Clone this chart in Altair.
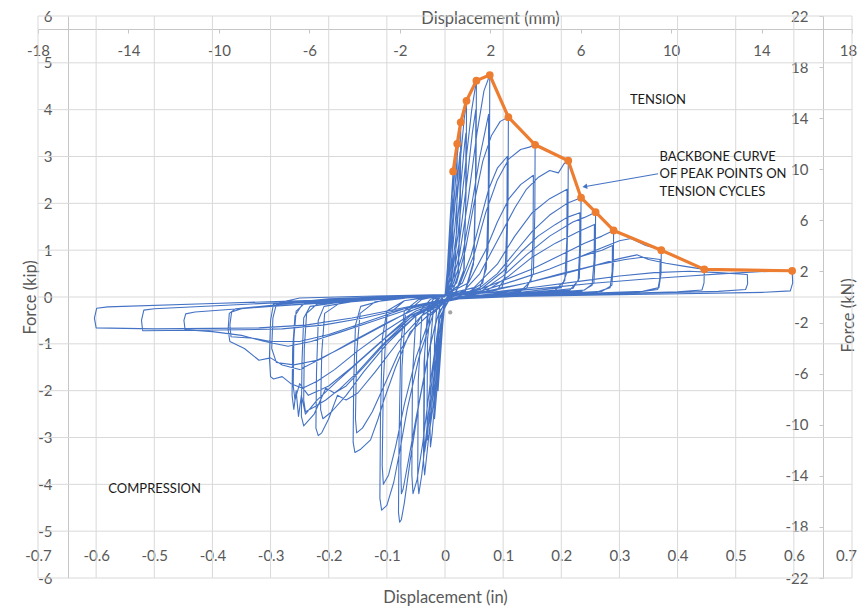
import altair as alt
import pandas as pd

# ---------------- tick values ----------------
in_ticks = [-0.7, -0.6, -0.5, -0.4, -0.3, -0.2, -0.1, 0.0, 0.1, 0.2, 0.3, 0.4, 0.5, 0.6, 0.7]
kip_ticks = [-6, -5, -4, -3, -2, -1, 0, 1, 2, 3, 4, 5, 6]
mm_ticks = [-18, -14, -10, -6, -2, 2, 6, 10, 14, 18]
kn_ticks = [-22, -18, -14, -10, -6, -2, 2, 6, 10, 14, 18, 22]

# ---------------- hysteresis cycles (displacement in, force kip) ----------------
cyc01 = [(0.0,0.0),(0.004,0.6),(0.009,1.7),(0.014,2.68),(0.0135,1.4),(0.011,0.3),(0.005,0.05),(0.0,-0.1),(-0.004,-0.6),(-0.008,-1.3),(-0.012,-2.0),(-0.013,-1.8),(-0.012,-0.7),(-0.009,-0.15),(-0.003,0.0),(0.0,0.03)]
cyc02 = [(0.0,0.03),(0.005,0.5),(0.012,1.9),(0.018,2.9),(0.021,3.27),(0.0205,1.8),(0.017,0.4),(0.008,0.05),(0.0,-0.1),(-0.006,-0.8),(-0.012,-1.7),(-0.018,-2.6),(-0.019,-2.3),(-0.018,-0.9),(-0.014,-0.2),(-0.005,0.0),(0.0,0.04)]
cyc03 = [(0.0,0.04),(0.006,0.5),(0.014,1.8),(0.021,3.0),(0.027,3.73),(0.0265,2.0),(0.023,0.5),(0.012,0.08),(0.0,-0.1),(-0.008,-0.9),(-0.016,-2.0),(-0.022,-2.9),(-0.025,-3.2),(-0.026,-2.7),(-0.025,-1.0),(-0.02,-0.25),(-0.008,0.0),(0.0,0.05)]
rep03 = [(0.0,0.04),(0.007,0.5),(0.015,1.7),(0.022,2.6),(0.026,3.1),(0.0255,1.7),(0.022,0.4),(0.01,0.05),(0.0,-0.1),(-0.01,-1.0),(-0.02,-2.3),(-0.027,-2.9),(-0.03,-3.05),(-0.031,-2.6),(-0.03,-0.9),(-0.024,-0.2),(-0.008,0.0),(0.0,0.04)]
cyc04 = [(0.0,0.05),(0.008,0.4),(0.017,1.5),(0.027,3.0),(0.033,3.8),(0.037,4.19),(0.0365,2.4),(0.033,0.6),(0.018,0.1),(0.002,-0.05),(-0.01,-0.8),(-0.02,-2.0),(-0.029,-3.1),(-0.035,-3.8),(-0.037,-3.5),(-0.036,-1.4),(-0.03,-0.3),(-0.012,0.0),(0.0,0.05)]
rep04 = [(0.0,0.05),(0.01,0.4),(0.02,1.4),(0.028,2.5),(0.034,3.3),(0.036,3.5),(0.0355,1.9),(0.032,0.5),(0.018,0.08),(0.0,-0.05),(-0.012,-0.9),(-0.022,-2.0),(-0.03,-2.9),(-0.035,-3.3),(-0.036,-3.0),(-0.035,-1.2),(-0.028,-0.25),(-0.01,0.0),(0.0,0.05)]
cyc05 = [(0.0,0.05),(0.01,0.3),(0.022,1.3),(0.035,2.8),(0.046,4.0),(0.054,4.62),(0.0535,2.8),(0.05,0.8),(0.035,0.15),(0.01,0.0),(-0.008,-0.4),(-0.02,-1.5),(-0.032,-2.9),(-0.04,-3.8),(-0.045,-4.2),(-0.047,-3.9),(-0.046,-1.8),(-0.04,-0.4),(-0.02,-0.05),(0.0,0.05)]
rep05 = [(0.0,0.05),(0.012,0.3),(0.025,1.2),(0.038,2.5),(0.047,3.5),(0.053,4.0),(0.0525,2.4),(0.049,0.7),(0.035,0.12),(0.008,0.0),(-0.01,-0.5),(-0.025,-1.8),(-0.038,-3.1),(-0.048,-3.9),(-0.055,-4.2),(-0.057,-3.8),(-0.056,-1.7),(-0.05,-0.4),(-0.025,-0.05),(0.0,0.05)]
cyc06 = [(0.0,0.05),(0.012,0.3),(0.025,0.9),(0.04,2.1),(0.055,3.5),(0.067,4.4),(0.077,4.74),(0.0765,3.0),(0.074,1.0),(0.065,0.3),(0.04,0.1),(0.012,0.0),(-0.01,-0.3),(-0.025,-1.0),(-0.045,-2.3),(-0.06,-3.5),(-0.07,-4.4),(-0.075,-4.75),(-0.078,-4.81),(-0.08,-4.6),(-0.079,-3.0),(-0.076,-1.0),(-0.07,-0.3),(-0.045,-0.05),(0.0,0.05)]
rep06 = [(0.0,0.05),(0.015,0.3),(0.03,0.9),(0.045,1.9),(0.06,3.0),(0.07,3.6),(0.075,3.9),(0.0745,2.2),(0.071,0.6),(0.06,0.2),(0.03,0.05),(0.0,-0.1),(-0.015,-0.5),(-0.03,-1.3),(-0.05,-2.6),(-0.063,-3.5),(-0.072,-4.1),(-0.075,-4.2),(-0.076,-3.6),(-0.074,-1.5),(-0.068,-0.35),(-0.04,-0.05),(0.0,0.05)]
cyc07 = [(0.0,0.05),(0.02,0.3),(0.035,1.0),(0.05,2.0),(0.065,2.9),(0.08,3.45),(0.095,3.75),(0.109,3.84),(0.1085,2.2),(0.106,0.6),(0.098,0.2),(0.06,0.08),(0.02,0.0),(0.0,-0.1),(-0.02,-0.35),(-0.045,-1.3),(-0.065,-2.4),(-0.078,-3.3),(-0.088,-3.95),(-0.1,-4.45),(-0.109,-4.55),(-0.112,-4.3),(-0.111,-2.6),(-0.108,-0.9),(-0.1,-0.3),(-0.07,-0.08),(-0.03,0.0),(0.0,0.05)]
rep07 = [(0.0,0.05),(0.025,0.25),(0.045,0.9),(0.06,1.6),(0.075,2.3),(0.09,2.75),(0.107,3.0),(0.1065,1.6),(0.103,0.4),(0.09,0.15),(0.05,0.05),(0.0,-0.05),(-0.025,-0.4),(-0.05,-1.3),(-0.07,-2.3),(-0.085,-3.2),(-0.097,-3.8),(-0.106,-4.0),(-0.108,-3.6),(-0.106,-1.8),(-0.1,-0.4),(-0.07,-0.08),(0.0,0.05)]
cyc08 = [(0.0,0.05),(0.03,0.3),(0.05,0.9),(0.07,1.8),(0.09,2.5),(0.11,2.95),(0.13,3.15),(0.145,3.2),(0.155,3.25),(0.1545,1.8),(0.152,0.5),(0.14,0.18),(0.09,0.08),(0.03,0.0),(0.0,-0.1),(-0.03,-0.4),(-0.06,-0.75),(-0.085,-1.5),(-0.105,-2.2),(-0.115,-2.6),(-0.128,-3.05),(-0.145,-3.25),(-0.155,-3.32),(-0.158,-3.1),(-0.157,-1.8),(-0.154,-0.6),(-0.145,-0.2),(-0.1,-0.05),(-0.04,0.0),(0.0,0.05)]
rep08 = [(0.0,0.05),(0.04,0.3),(0.07,1.0),(0.09,1.6),(0.11,2.1),(0.13,2.4),(0.152,2.6),(0.1515,1.3),(0.148,0.35),(0.13,0.12),(0.07,0.04),(0.0,-0.05),(-0.04,-0.4),(-0.08,-1.2),(-0.105,-1.9),(-0.125,-2.45),(-0.142,-2.8),(-0.152,-2.9),(-0.154,-2.6),(-0.152,-1.2),(-0.146,-0.35),(-0.12,-0.1),(-0.05,0.0),(0.0,0.05)]
cyc09 = [(0.0,0.05),(0.03,0.1),(0.06,0.5),(0.09,1.2),(0.12,1.9),(0.14,2.3),(0.16,2.55),(0.18,2.7),(0.195,2.65),(0.205,2.85),(0.212,2.91),(0.2115,1.7),(0.209,0.5),(0.2,0.2),(0.13,0.1),(0.05,0.02),(0.0,-0.1),(-0.04,-0.4),(-0.08,-0.95),(-0.12,-1.6),(-0.15,-2.05),(-0.17,-2.2),(-0.185,-2.1),(-0.2,-2.6),(-0.212,-2.9),(-0.218,-2.96),(-0.222,-2.8),(-0.221,-1.6),(-0.218,-0.5),(-0.208,-0.2),(-0.14,-0.06),(-0.05,0.0),(0.0,0.05)]
rep09 = [(0.0,0.05),(0.05,0.2),(0.09,0.7),(0.12,1.3),(0.15,1.8),(0.18,2.1),(0.21,2.3),(0.2095,1.2),(0.206,0.35),(0.19,0.15),(0.1,0.05),(0.0,-0.05),(-0.05,-0.4),(-0.1,-1.0),(-0.14,-1.6),(-0.17,-2.1),(-0.195,-2.45),(-0.21,-2.6),(-0.214,-2.4),(-0.212,-1.2),(-0.207,-0.35),(-0.18,-0.12),(-0.08,-0.02),(0.0,0.05)]
cyc10 = [(0.0,0.05),(0.05,0.1),(0.09,0.5),(0.12,0.95),(0.15,1.4),(0.18,1.75),(0.21,2.0),(0.234,2.12),(0.2335,1.2),(0.231,0.4),(0.22,0.18),(0.14,0.08),(0.05,0.02),(0.0,-0.08),(-0.05,-0.4),(-0.1,-0.95),(-0.14,-1.5),(-0.17,-1.9),(-0.19,-2.05),(-0.205,-1.95),(-0.225,-2.5),(-0.243,-2.75),(-0.247,-2.55),(-0.246,-1.4),(-0.243,-0.45),(-0.232,-0.2),(-0.15,-0.06),(-0.05,0.0),(0.0,0.05)]
rep10 = [(0.0,0.05),(0.06,0.15),(0.1,0.55),(0.13,0.95),(0.16,1.3),(0.19,1.55),(0.21,1.7),(0.232,1.8),(0.2315,1.0),(0.229,0.35),(0.215,0.15),(0.12,0.05),(0.0,-0.06),(-0.06,-0.45),(-0.11,-1.05),(-0.15,-1.6),(-0.18,-1.95),(-0.205,-2.2),(-0.225,-2.35),(-0.24,-2.45),(-0.243,-2.2),(-0.242,-1.1),(-0.238,-0.35),(-0.22,-0.15),(-0.1,-0.03),(0.0,0.05)]
cyc11 = [(0.0,0.05),(0.06,0.1),(0.1,0.45),(0.14,0.9),(0.18,1.3),(0.22,1.6),(0.24,1.7),(0.259,1.81),(0.2585,0.9),(0.256,0.3),(0.24,0.15),(0.15,0.07),(0.05,0.01),(0.0,-0.08),(-0.05,-0.35),(-0.1,-0.85),(-0.15,-1.4),(-0.19,-1.85),(-0.22,-2.2),(-0.24,-2.5),(-0.247,-2.1),(-0.252,-2.55),(-0.256,-2.0),(-0.26,-2.4),(-0.263,-2.1),(-0.262,-1.1),(-0.258,-0.4),(-0.245,-0.15),(-0.15,-0.04),(-0.05,0.0),(0.0,0.05)]
rep11 = [(0.0,0.05),(0.07,0.12),(0.11,0.45),(0.15,0.85),(0.19,1.15),(0.23,1.4),(0.257,1.55),(0.2565,0.8),(0.253,0.25),(0.235,0.12),(0.12,0.04),(0.0,-0.06),(-0.06,-0.4),(-0.11,-0.95),(-0.16,-1.5),(-0.2,-1.9),(-0.235,-2.1),(-0.25,-1.85),(-0.258,-2.2),(-0.261,-1.9),(-0.26,-0.9),(-0.256,-0.3),(-0.24,-0.12),(-0.12,-0.02),(0.0,0.05)]
cyc12 = [(0.0,0.05),(0.05,0.12),(0.1,0.35),(0.15,0.6),(0.2,0.9),(0.24,1.15),(0.27,1.3),(0.29,1.42),(0.2895,0.7),(0.287,0.25),(0.27,0.12),(0.17,0.06),(0.05,0.0),(0.0,-0.06),(-0.05,-0.3),(-0.1,-0.7),(-0.15,-1.15),(-0.19,-1.55),(-0.22,-1.8),(-0.245,-1.95),(-0.265,-1.85),(-0.28,-1.7),(-0.295,-1.75),(-0.3,-1.7),(-0.302,-1.3),(-0.3,-0.5),(-0.295,-0.15),(-0.25,-0.02),(-0.12,0.02),(0.0,0.05)]
rep12 = [(0.0,0.05),(0.06,0.12),(0.12,0.35),(0.18,0.6),(0.23,0.85),(0.27,1.0),(0.288,1.1),(0.2875,0.55),(0.284,0.2),(0.26,0.1),(0.12,0.04),(0.0,-0.05),(-0.06,-0.3),(-0.12,-0.7),(-0.18,-1.1),(-0.22,-1.35),(-0.26,-1.45),(-0.29,-1.4),(-0.298,-1.1),(-0.296,-0.45),(-0.29,-0.15),(-0.2,-0.04),(0.0,0.05)]
cyc13 = [(0.0,0.05),(0.06,0.12),(0.12,0.35),(0.18,0.6),(0.23,0.85),(0.27,1.05),(0.3,1.2),(0.32,1.25),(0.345,1.1),(0.36,1.05),(0.372,1.0),(0.3715,0.5),(0.368,0.2),(0.34,0.12),(0.2,0.06),(0.06,0.0),(0.0,-0.05),(-0.05,-0.25),(-0.1,-0.55),(-0.16,-0.95),(-0.21,-1.3),(-0.25,-1.55),(-0.28,-1.45),(-0.3,-1.3),(-0.32,-1.35),(-0.345,-1.1),(-0.37,-0.95),(-0.373,-0.7),(-0.371,-0.35),(-0.36,-0.25),(-0.25,-0.12),(-0.12,-0.03),(0.0,0.04)]
rep13 = [(0.0,0.04),(0.07,0.1),(0.14,0.3),(0.2,0.5),(0.26,0.68),(0.31,0.8),(0.34,0.85),(0.37,0.8),(0.3695,0.4),(0.366,0.16),(0.33,0.1),(0.18,0.04),(0.0,-0.05),(-0.07,-0.25),(-0.14,-0.55),(-0.2,-0.8),(-0.25,-0.95),(-0.3,-0.95),(-0.33,-0.88),(-0.368,-0.85),(-0.37,-0.6),(-0.367,-0.32),(-0.35,-0.25),(-0.2,-0.1),(0.0,0.04)]
cyc14 = [(0.0,0.04),(0.07,0.12),(0.14,0.3),(0.2,0.48),(0.26,0.68),(0.3,0.82),(0.33,0.9),(0.35,0.8),(0.38,0.72),(0.41,0.66),(0.446,0.59),(0.4455,0.3),(0.442,0.15),(0.4,0.11),(0.25,0.06),(0.08,0.0),(0.0,-0.05),(-0.06,-0.25),(-0.12,-0.5),(-0.18,-0.75),(-0.23,-0.95),(-0.27,-1.05),(-0.31,-0.95),(-0.35,-0.82),(-0.4,-0.74),(-0.447,-0.7),(-0.449,-0.5),(-0.446,-0.36),(-0.43,-0.32),(-0.3,-0.2),(-0.15,-0.08),(0.0,0.03)]
cyc15 = [(0.0,0.03),(0.08,0.1),(0.16,0.22),(0.24,0.35),(0.3,0.45),(0.36,0.52),(0.42,0.55),(0.47,0.52),(0.52,0.48),(0.5205,0.28),(0.517,0.16),(0.47,0.12),(0.3,0.07),(0.1,0.01),(0.0,-0.05),(-0.07,-0.25),(-0.14,-0.45),(-0.21,-0.6),(-0.28,-0.68),(-0.35,-0.7),(-0.43,-0.71),(-0.52,-0.72),(-0.522,-0.5),(-0.518,-0.28),(-0.5,-0.25),(-0.35,-0.16),(-0.18,-0.06),(0.0,0.03)]
cyc16 = [(0.0,0.03),(0.09,0.1),(0.18,0.2),(0.26,0.3),(0.34,0.38),(0.42,0.45),(0.48,0.5),(0.54,0.54),(0.597,0.56),(0.598,0.3),(0.594,0.13),(0.55,0.1),(0.35,0.06),(0.12,0.01),(0.0,-0.05),(-0.08,-0.25),(-0.16,-0.45),(-0.24,-0.6),(-0.32,-0.66),(-0.4,-0.67),(-0.5,-0.68),(-0.6,-0.66),(-0.603,-0.45),(-0.599,-0.24),(-0.58,-0.21),(-0.4,-0.14),(-0.2,-0.06),(0.0,0.0)]

cycles = [cyc01, cyc02, cyc03, rep03, cyc04, rep04, cyc05, rep05, cyc06, rep06, cyc07, rep07,
          cyc08, rep08, cyc09, rep09, cyc10, rep10, cyc11, rep11, cyc12, rep12, cyc13, rep13,
          cyc14, cyc15, cyc16]

# ---------------- backbone curve (peak points on tension cycles) ----------------
bb_in = [0.014, 0.021, 0.027, 0.037, 0.054, 0.077, 0.109, 0.155, 0.212, 0.234, 0.259, 0.290, 0.372, 0.446, 0.597]
bb_kip = [2.68, 3.27, 3.73, 4.19, 4.62, 4.74, 3.84, 3.25, 2.91, 2.12, 1.81, 1.42, 1.00, 0.59, 0.56]

# ---------------- annotations ----------------
note_text = ["TENSION", "BACKBONE CURVE", "OF PEAK POINTS ON", "TENSION CYCLES", "COMPRESSION"]
note_in = [0.318, 0.369, 0.369, 0.369, -0.579]
note_kip = [4.2, 3.0, 2.62, 2.24, -4.11]
arrow_in = [0.3665, 0.2418]
arrow_kip = [2.63, 2.36]

# ---------------- build tables ----------------
rows = []
seq = 0
for pts in cycles:
    for d, f in pts:
        rows.append({"seq": seq, "d": d, "f": f})
        seq += 1
loops = pd.DataFrame(rows)
bb = pd.DataFrame({"d": bb_in, "f": bb_kip})
notes = pd.DataFrame({"d": note_in, "f": note_kip, "t": note_text})
arr_line = pd.DataFrame({"d": [arrow_in[0]], "f": [arrow_kip[0]], "d2": [arrow_in[1]], "f2": [arrow_kip[1]]})
arr_head = pd.DataFrame({"d": [arrow_in[1]], "f": [arrow_kip[1]]})
vgrid = pd.DataFrame({"d": in_ticks})
hgrid = pd.DataFrame({"f": kip_ticks})
sec = pd.DataFrame({"mm": [-18, 18], "kn": [-22, 22]})

W, H = 814, 562
FONT = "Lato"
BLUE = "#4472c4"
ORANGE = "#ed7d31"
LABEL = "#595959"

xs = alt.Scale(domain=[-0.7, 0.7], nice=False, zero=False)
ys = alt.Scale(domain=[-6, 6], nice=False, zero=False)

x_axis = alt.Axis(
    orient="bottom", offset=-30, values=in_ticks, labelExpr="'' + datum.value",
    domain=False, ticks=False, tickSize=0, labelPadding=0, grid=False,
    labelFlush=False, labelOverlap=False, labelBound=False,
    labelOffset={"condition": {"test": "datum.value >= 0.69", "value": -6}, "value": 0},
    title="Displacement (in)", titleX=407, titleY=49, titleAlign="center", titleBaseline="middle",
)
y_axis = alt.Axis(
    orient="left", offset=-30, values=kip_ticks, labelExpr="'' + datum.value",
    domain=True, ticks=False, tickSize=0, labelPadding=16, grid=False,
    labelFlush=False, labelOverlap=False, labelBound=False,
    title="Force (kip)", titleX=-38, titleY=281, titleAngle=-90, titleAlign="center", titleBaseline="middle",
)

# gridlines (drawn first, behind everything)
grid_v = alt.Chart(vgrid).mark_rule(color="#d9d9d9", strokeWidth=1).encode(
    x=alt.X("d:Q", scale=xs, axis=x_axis))
grid_h = alt.Chart(hgrid).mark_rule(color="#d9d9d9", strokeWidth=1).encode(
    y=alt.Y("f:Q", scale=ys, axis=y_axis))

loops_layer = alt.Chart(loops).mark_line(color=BLUE, strokeWidth=1.1, strokeJoin="round").encode(
    x=alt.X("d:Q", scale=xs),
    y=alt.Y("f:Q", scale=ys),
    order=alt.Order("seq:Q"),
)
gray_pt = alt.Chart(pd.DataFrame({"d": [0.009], "f": [-0.33]})).mark_point(
    filled=True, color="#a5a5a5", size=18, opacity=1).encode(
    x=alt.X("d:Q", scale=xs), y=alt.Y("f:Q", scale=ys))

bb_line = alt.Chart(bb).mark_line(color=ORANGE, strokeWidth=3.2, strokeJoin="round").encode(
    x=alt.X("d:Q", scale=xs), y=alt.Y("f:Q", scale=ys))
bb_pts = alt.Chart(bb).mark_point(filled=True, color=ORANGE, size=60, opacity=1).encode(
    x=alt.X("d:Q", scale=xs), y=alt.Y("f:Q", scale=ys))

notes_layer = alt.Chart(notes).mark_text(align="left", baseline="middle", font=FONT,
                                         fontSize=13, color="#1a1a1a").encode(
    x=alt.X("d:Q", scale=xs), y=alt.Y("f:Q", scale=ys), text="t:N")

arrow_l = alt.Chart(arr_line).mark_rule(color=BLUE, strokeWidth=1.1).encode(
    x=alt.X("d:Q", scale=xs), y=alt.Y("f:Q", scale=ys),
    x2="d2:Q", y2="f2:Q")
arrow_h = alt.Chart(arr_head).mark_point(shape="triangle", filled=True, color=BLUE,
                                          size=30, angle=260, opacity=1).encode(
    x=alt.X("d:Q", scale=xs), y=alt.Y("f:Q", scale=ys))

primary = alt.layer(grid_v, grid_h, loops_layer, gray_pt, bb_line, bb_pts, notes_layer, arrow_l, arrow_h)

mm_axis = alt.Axis(
    orient="bottom", offset=-549, values=mm_ticks, labelExpr="'' + datum.value",
    domain=True, ticks=True, tickSize=4, labelPadding=10, grid=False,
    labelFlush=False, labelOverlap=False, labelBound=False,
    labelOffset={"condition": {"test": "datum.value >= 17", "value": -4}, "value": 0},
    title="Displacement (mm)", titleX=452, titleY=-11, titleAlign="center", titleBaseline="middle",
)
kn_axis = alt.Axis(
    orient="left", offset=-785, values=kn_ticks, labelExpr="'' + datum.value",
    domain=True, ticks=True, tickSize=4, labelPadding=11, grid=False,
    labelFlush=False, labelOverlap=False, labelBound=False,
    title="Force (kN)", titleX=25, titleY=299, titleAngle=-90, titleAlign="center", titleBaseline="middle",
)
secondary = alt.Chart(sec).mark_point(opacity=0).encode(
    x=alt.X("mm:Q", scale=alt.Scale(domain=[-18, 18], nice=False, zero=False), axis=mm_axis),
    y=alt.Y("kn:Q", scale=alt.Scale(domain=[-22, 22], nice=False, zero=False), axis=kn_axis),
)

chart = alt.layer(primary, secondary).resolve_scale(
    x="independent", y="independent"
).properties(
    width=W, height=H,
    autosize=alt.AutoSizeParams(type="none"),
    padding={"left": 30, "top": 8, "right": 5, "bottom": 29},
).configure_view(stroke=None).configure_axis(
    labelFont=FONT, labelFontSize=15, labelColor=LABEL,
    titleFont=FONT, titleFontSize=16.5, titleColor=LABEL, titleFontWeight="normal",
    domainColor="#c6c6c6", tickColor="#c6c6c6", domainWidth=1,
)

chart.save("out.html", embed_options={"renderer": "svg", "actions": False})
